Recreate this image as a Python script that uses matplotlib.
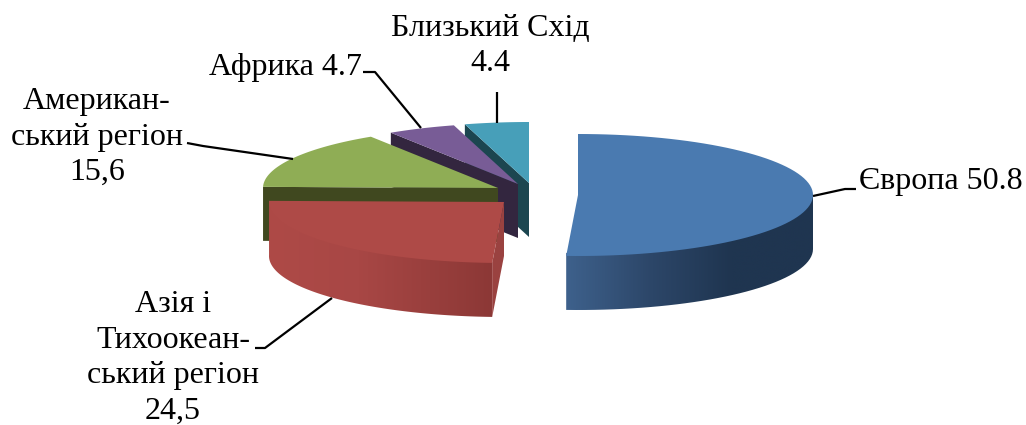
import numpy as np
import matplotlib
matplotlib.use('Agg')
import matplotlib.pyplot as plt
from matplotlib.colors import LinearSegmentedColormap
from matplotlib.patches import Polygon

regions = ['Європа', 'Азія і Тихоокеанський регіон', 'Американський регіон', 'Африка', 'Близький Схід']
shares = [50.8, 24.5, 15.6, 4.7, 4.4]
labels = ['Європа 50.8',
          'Азія і\nТихоокеан-\nський регіон\n24,5',
          'Американ-\nський регіон\n15,6',
          'Африка 4.7',
          'Близький Схід\n4.4']

top_colors = ['#4a7ab0', '#ae4a47', '#8fad55', '#785c96', '#479fb9']
wall_colors = ['#1f3550', '#9a4240', '#40481f', '#33263f', '#1c4650']

# apex of every slice in picture pixels (the slices are pulled apart by hand)
centers = [(578, 195), (504, 202), (498, 188), (518, 184), (529, 183)]
rx, ry = 235, 61
depth = 54

label_pos = [(941, 181), (173, 358), (97, 137), (285, 67), (490, 46)]
leaders = [[(856, 189), (845, 189), (813, 196)],
           [(255, 348), (265, 348), (332, 298)],
           [(187, 143), (203, 146), (293, 159)],
           [(363, 72), (375, 72), (421, 128)],
           [(497, 92), (497, 123)]]

plt.rcParams['font.family'] = ['Liberation Serif', 'DejaVu Serif']


def arc_points(center, a0, a1, n=80):
    """Points on the ellipse between two angles given in degrees."""
    t = np.radians(np.linspace(a0, a1, n))
    return np.column_stack([center[0] + rx * np.cos(t), center[1] - ry * np.sin(t)])


def gradient_wall(ax, pts, colors, stops, zorder):
    """Fill a polygon with a left to right gradient."""
    poly = Polygon(pts, closed=True, fc='none', ec='none', transform=ax.transData)
    ax.add_patch(poly)
    cmap = LinearSegmentedColormap.from_list('wall', list(zip(stops, colors)))
    x0, x1 = pts[:, 0].min(), pts[:, 0].max()
    y0, y1 = pts[:, 1].min(), pts[:, 1].max()
    img = ax.imshow(np.linspace(0, 1, 256)[None, :], cmap=cmap, aspect='auto',
                    extent=(x0, x1, y1, y0), zorder=zorder, interpolation='bilinear')
    img.set_clip_path(poly)


fig = plt.figure(figsize=(10.26, 4.25), dpi=100)
ax = fig.add_axes([0, 0, 1, 1])

# angles run clockwise from twelve o'clock
edges = 90 - np.concatenate([[0], np.cumsum(shares)]) * 3.6

# back slices first so the front ones cover them
for i in [4, 3, 2, 1, 0]:
    z = (5 - i) * 10
    c = centers[i]
    start, end = edges[i], edges[i + 1]
    arc = arc_points(c, start, end)
    top = np.vstack([[c], arc])

    if i == 0:
        # outer wall of Europe, only the part below the widest point
        front = arc[np.sin(np.radians(np.linspace(start, end, 80))) <= 0]
        # pulled up a little under the top face so no seam shows
        wall = np.vstack([front - [0, 3], (front + [0, depth])[::-1]])
        gradient_wall(ax, wall, ['#3e618c', '#2c4668', '#1f3550', '#1f3550'],
                      [0, 0.35, 0.67, 1], z)
    elif i == 1:
        wall = np.vstack([arc - [0, 3], (arc + [0, depth])[::-1]])
        gradient_wall(ax, wall, ['#ae4a47', '#a84745', '#8c3836'], [0, 0.4, 1], z)
        bottom = arc[0]
        ax.add_patch(Polygon([c, bottom, bottom + [0, depth], np.add(c, (0, depth))],
                             fc=wall_colors[i], ec='none', zorder=z))
    else:
        # only the cut face on the left of the apex shows
        p = arc[0]
        ax.add_patch(Polygon([p, c, np.add(c, (0, depth)), p + [0, depth]],
                             fc=wall_colors[i], ec='none', zorder=z))

    ax.add_patch(Polygon(top, closed=True, fc=top_colors[i], ec='none', zorder=z + 1))

for line in leaders:
    xy = np.array(line)
    ax.plot(xy[:, 0], xy[:, 1], color='black', lw=1.6, zorder=100, solid_capstyle='butt')

for text, pos in zip(labels, label_pos):
    ax.text(pos[0], pos[1], text, ha='center', va='center', fontsize=23,
            linespacing=1.3, color='black', zorder=101)

ax.set_xlim(0, 1026)
ax.set_ylim(425, 0)
ax.axis('off')
fig.savefig('out.png', dpi=100)
